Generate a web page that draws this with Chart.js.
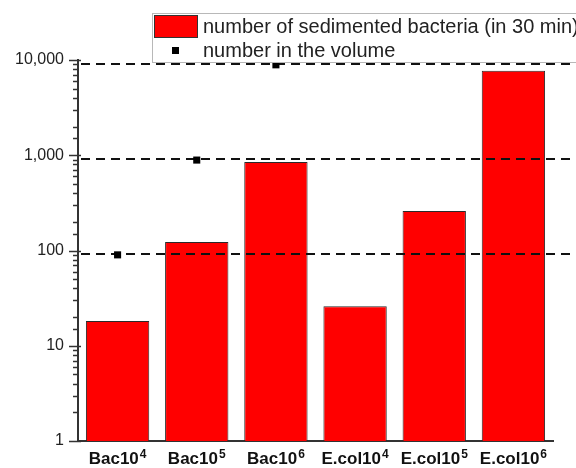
<!DOCTYPE html>
<html>
<head>
<meta charset="utf-8">
<script src="https://cdn.jsdelivr.net/npm/chart.js@4"></script>
<style>
  html, body { margin: 0; padding: 0; background: #fff; }
</style>
</head>
<body>
<canvas id="chart" width="576" height="468"></canvas>
<script>
const categories = ["Bac10\u2074", "Bac10\u2075", "Bac10\u2076", "E.col10\u2074", "E.col10\u2075", "E.col10\u2076"];
const sedimented = [18.2, 123, 850, 26, 260, 7700];
const inVolume = [90, 890, 8900, null, null, null];
const refLevels = [92, 920, 9100];
const yTicks = [1, 10, 100, 1000, 10000];

const FONT = "'Liberation Sans', Arial, sans-serif";
Chart.defaults.font.family = FONT;
Chart.defaults.color = "#222";

const SUP = { "\u2074": "4", "\u2075": "5", "\u2076": "6" };

const extras = {
  id: "extras",
  afterDatasetDraw(chart, args) {
    if (args.meta.type !== "bar") return;
    const { ctx, chartArea, scales: { y } } = chart;
    ctx.save();
    ctx.strokeStyle = "#111";
    ctx.lineWidth = 2;
    ctx.setLineDash([9, 6]);
    refLevels.forEach(v => {
      const py = Math.round(y.getPixelForValue(v));
      ctx.beginPath();
      ctx.moveTo(chartArea.left + 3, py);
      ctx.lineTo(chart.width - 4, py);
      ctx.stroke();
    });
    ctx.restore();
  },
  afterDraw(chart) {
    const { ctx, chartArea, scales: { x, y } } = chart;
    ctx.save();
    // y tick marks, long for decades, short for the rest
    ctx.strokeStyle = "#333";
    ctx.lineWidth = 1.5;
    y.ticks.forEach(t => {
      const py = Math.round(y.getPixelForValue(t.value)) + 0.5;
      const major = yTicks.includes(t.value);
      ctx.beginPath();
      ctx.moveTo(chartArea.left - (major ? 9 : 5), py);
      ctx.lineTo(chartArea.left + (major ? 3 : 0), py);
      ctx.stroke();
    });

    // category labels with a real superscript exponent
    ctx.fillStyle = "#111";
    ctx.textBaseline = "alphabetic";
    ctx.textAlign = "left";
    categories.forEach((lab, i) => {
      const last = lab.slice(-1);
      const base = SUP[last] ? lab.slice(0, -1) : lab;
      const exp = SUP[last] || "";
      ctx.font = "bold 17px " + FONT;
      const wb = ctx.measureText(base).width;
      ctx.font = "bold 12px " + FONT;
      const we = ctx.measureText(exp).width;
      const x0 = x.getPixelForTick(i) - (wb + we + 1) / 2;
      ctx.font = "bold 17px " + FONT;
      ctx.fillText(base, x0, 464);
      ctx.font = "bold 12px " + FONT;
      ctx.fillText(exp, x0 + wb + 1, 458);
    });

    // legend box
    const ds = chart.data.datasets;
    ctx.fillStyle = "#fff";
    ctx.fillRect(152, 13, 440, 49);
    ctx.strokeStyle = "#b8b8b8";
    ctx.lineWidth = 1;
    ctx.strokeRect(152.5, 13.5, 440, 49);

    ctx.fillStyle = ds[0].backgroundColor;
    ctx.fillRect(154, 15, 43, 22);
    ctx.strokeStyle = "#333";
    ctx.strokeRect(154.5, 15.5, 43, 22);

    ctx.fillStyle = "#000";
    ctx.fillRect(172, 47, 7, 7);

    ctx.fillStyle = "#222";
    ctx.font = "20px " + FONT;
    ctx.textBaseline = "middle";
    ctx.fillText(ds[0].label, 203, 27);
    ctx.fillText(ds[1].label, 203, 51);
    ctx.restore();
  }
};

new Chart(document.getElementById("chart"), {
  type: "bar",
  data: {
    labels: categories,
    datasets: [
      {
        type: "bar",
        label: "number of sedimented bacteria (in 30 min)",
        data: sedimented,
        backgroundColor: "#ff0000",
        borderColor: "#2a2a2a",
        borderWidth: 1,
        barPercentage: 0.8,
        categoryPercentage: 1,
        order: 2
      },
      {
        type: "line",
        label: "number in the volume",
        data: inVolume,
        showLine: false,
        pointStyle: "rect",
        pointRadius: 5,
        pointHoverRadius: 5,
        pointBackgroundColor: "#000",
        pointBorderWidth: 0,
        order: 1
      }
    ]
  },
  options: {
    responsive: false,
    animation: false,
    events: [],
    layout: { padding: { top: 60, right: 23, left: 0, bottom: 0 } },
    plugins: {
      legend: { display: false },
      tooltip: { enabled: false }
    },
    scales: {
      x: {
        grid: { display: false },
        border: { display: true, color: "#333", width: 2 },
        ticks: { display: false },
        afterFit: s => { s.height = 27; }
      },
      y: {
        type: "logarithmic",
        min: 1,
        max: 10000,
        grid: { display: false },
        border: { display: true, color: "#333", width: 2 },
        ticks: {
          autoSkip: false,
          padding: 6,
          color: "#222",
          font: { size: 16 },
          callback: v => (yTicks.includes(v) ? v.toLocaleString("en-US") : "")
        },
        afterFit: s => { s.width = 78; }
      }
    }
  },
  plugins: [extras]
});
</script>
</body>
</html>
